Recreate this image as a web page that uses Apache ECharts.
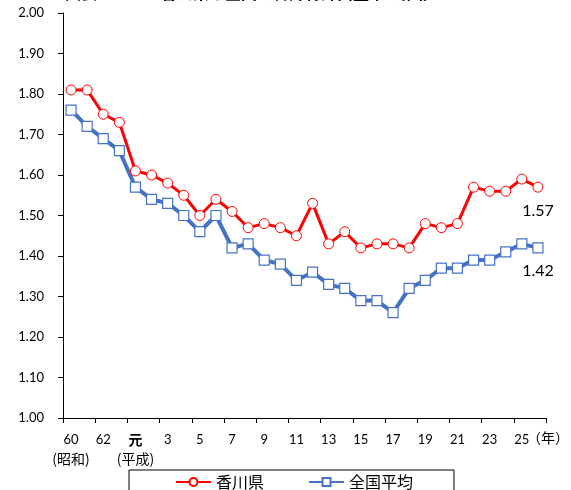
<!DOCTYPE html>
<html><head><meta charset="utf-8">
<script src="https://cdn.jsdelivr.net/npm/echarts@6/dist/echarts.min.js"></script>
<style>html,body{margin:0;padding:0;background:#fff}#c{width:571px;height:490px}</style>
</head><body><div id="c"></div>
<script>
const categories = ['60','61','62','63','元','2','3','4','5','6','7','8','9','10','11','12','13','14','15','16','17','18','19','20','21','22','23','24','25','26'];
const kagawa = [1.81,1.81,1.75,1.73,1.61,1.60,1.58,1.55,1.50,1.54,1.51,1.47,1.48,1.47,1.45,1.53,1.43,1.46,1.42,1.43,1.43,1.42,1.48,1.47,1.48,1.57,1.56,1.56,1.59,1.57];
const national = [1.76,1.72,1.69,1.66,1.57,1.54,1.53,1.50,1.46,1.50,1.42,1.43,1.39,1.38,1.34,1.36,1.33,1.32,1.29,1.29,1.26,1.32,1.34,1.37,1.37,1.39,1.39,1.41,1.43,1.42];
const eraNotes = {0:'(昭和)', 4:'(平成)'};
const yearUnit = '（年）';

const FONT = "Lato, 'Noto Sans CJK JP', sans-serif";
const JP = "'Noto Sans CJK JP', sans-serif";
function withLastLabel(arr){
  return arr.map((v,i)=> i===arr.length-1 ? {value:v, label:{show:true}} : v);
}
const chart = echarts.init(document.getElementById('c'), null, {renderer:'canvas'});
chart.setOption({
  animation:false,
  title:{text:'図表１　　　香川県と全国の合計特殊出生率の推移', left:60, top:-20,
    textStyle:{fontSize:16, fontWeight:'bold', color:'#000', fontFamily:JP}},
  grid:{left:63, right:25, top:13, bottom:72, containLabel:false, outerBoundsMode:'none'},
  graphic:[{type:'text', left:527, top:431, style:{text:yearUnit, fontSize:14, fill:'#000', fontFamily:JP}}],
  legend:{
    data:['香川県','全国平均'], left:129, top:470,
    padding:[4,41,8,46], itemGap:44, itemWidth:35, itemHeight:10,
    borderColor:'#000', borderWidth:1, borderRadius:0,
    textStyle:{fontSize:16, color:'#000', fontFamily:JP}
  },
  xAxis:{
    type:'category', data:categories, boundaryGap:true,
    axisLine:{lineStyle:{color:'#000', width:1}},
    axisTick:{show:true, length:5, lineStyle:{color:'#000'}},
    axisLabel:{interval:1, margin:12, fontSize:13, color:'#000', fontFamily:FONT, lineHeight:19,
      formatter:(v,i)=>{
        const main = v==='元' ? '{b|元}' : v;
        return eraNotes[i] ? main + '\n{s|' + eraNotes[i] + '}' : main;
      },
      rich:{b:{fontSize:14, fontWeight:'bold', fontFamily:JP, lineHeight:19},
            s:{fontSize:14, fontFamily:JP, lineHeight:19}}
    },
    splitLine:{show:false}
  },
  yAxis:{
    type:'value', min:1, max:2, interval:0.1,
    axisLine:{show:true, lineStyle:{color:'#000', width:1}},
    axisTick:{show:true, length:5, lineStyle:{color:'#000'}},
    axisLabel:{margin:19, fontSize:13, color:'#000', fontFamily:FONT, formatter:v=>v.toFixed(2)},
    splitLine:{show:false}
  },
  series:[
    {name:'香川県', type:'line', data:withLastLabel(kagawa), symbol:'circle', symbolSize:10,
     lineStyle:{color:'#FF0000', width:3}, itemStyle:{color:'#fff', borderColor:'#FF0000', borderWidth:1},
     label:{show:false, position:'bottom', distance:10, fontSize:16, color:'#000', fontFamily:FONT, formatter:p=>p.value.toFixed(2)},
     z:3},
    {name:'全国平均', type:'line', data:withLastLabel(national), symbol:'rect', symbolSize:10,
     lineStyle:{color:'#4472C4', width:4}, itemStyle:{color:'#fff', borderColor:'#4472C4', borderWidth:1.2},
     label:{show:false, position:'bottom', distance:9, fontSize:16, color:'#000', fontFamily:FONT, formatter:p=>p.value.toFixed(2)},
     z:2}
  ]
});
</script></body></html>
